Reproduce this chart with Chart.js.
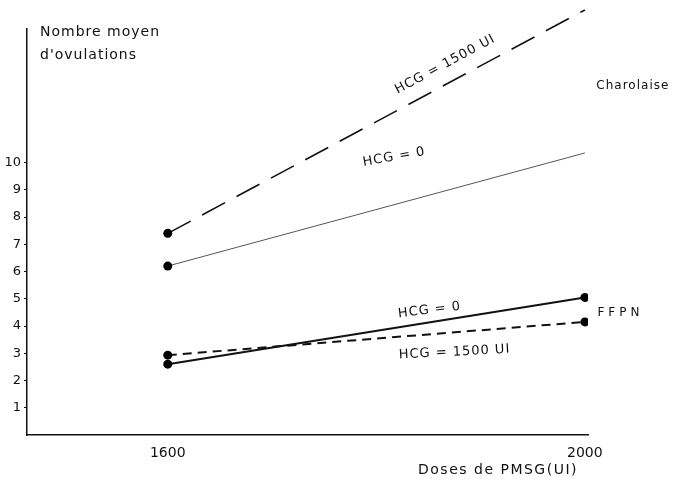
<!DOCTYPE html>
<html>
<head>
<meta charset="utf-8">
<script src="https://cdn.jsdelivr.net/npm/chart.js@4.4.1/dist/chart.umd.min.js"></script>
<style>
  html, body { margin: 0; padding: 0; background: #fff; }
  #ChartContainer { width: 680px; height: 484px; position: relative; }
</style>
</head>
<body>
<div id="ChartContainer"><canvas id="OvulationChart"></canvas></div>
<script>
// Doses de PMSG (UI)
const doses = [1600, 2000];

// Charolaise
const charolaiseHcg1500 = [7.4, 15.6];
const charolaiseHcg0 = [6.2, 10.35];

// FFPN
const ffpnHcg0 = [2.6, 5.05];
const ffpnHcg1500 = [2.93, 4.15];

const yTickLabels = [1, 2, 3, 4, 5, 6, 7, 8, 9, 10];
const xTickLabels = [1600, 2000];

const yTitleLines = ["Nombre moyen", "d'ovulations"];
const xTitle = "Doses de PMSG(UI)";

// texts beside the lines, anchored in data units (dose, ovulations)
const lineLabels = [
    { text: "HCG = 1500 UI", x: 1866, y: 13.6, angle: null, follow: 0 },
    { text: "HCG = 0", x: 1817, y: 10.2, angle: -10 },
    { text: "HCG = 0", x: 1851, y: 4.58, angle: -7 },
    { text: "HCG = 1500 UI", x: 1875, y: 3.04, angle: -3 }
];
const groupLabels = [
    { text: "Charolaise", x: 2011, y: 12.8, spacing: '1px' },
    { text: "FFPN", x: 2012, y: 4.47, spacing: '4px' }
];

const FONT = '"DejaVu Sans", sans-serif';

function toPoints(values) {
    let points = [];
    for (let i = 0; i < doses.length; i++) {
        points.push({ x: doses[i], y: values[i] });
    }
    return points;
}

const annotationPlugin = {
    id: 'annotations',
    afterDatasetsDraw(chart) {
        const ctx = chart.ctx;
        const xs = chart.scales.x;
        const ys = chart.scales.y;
        const area = chart.chartArea;

        ctx.save();
        ctx.fillStyle = '#111';
        ctx.textBaseline = 'middle';
        ctx.font = '14px ' + FONT;
        ctx.letterSpacing = '1px';

        // y axis title, inside the plot next to the axis
        ctx.textAlign = 'left';
        for (let i = 0; i < yTitleLines.length; i++) {
            ctx.fillText(yTitleLines[i], area.left + 13, area.top + 3 + i * 23);
        }

        // x axis title, under the axis towards the right end
        ctx.textAlign = 'right';
        ctx.letterSpacing = '1.5px';
        ctx.fillText(xTitle, area.right - 10, area.bottom + 35);

        ctx.font = '13px ' + FONT;
        ctx.letterSpacing = '1px';
        for (let i = 0; i < lineLabels.length; i++) {
            let lab = lineLabels[i];
            let angle = lab.angle == null ? 0 : lab.angle * Math.PI / 180;
            if (lab.follow != undefined) {
                let pts = chart.getDatasetMeta(lab.follow).data;
                angle = Math.atan2(pts[1].y - pts[0].y, pts[1].x - pts[0].x);
            }
            ctx.save();
            ctx.translate(xs.getPixelForValue(lab.x), ys.getPixelForValue(lab.y));
            ctx.rotate(angle);
            ctx.textAlign = 'center';
            ctx.fillText(lab.text, 0, 0);
            ctx.restore();
        }

        ctx.font = '12px ' + FONT;
        ctx.textAlign = 'left';
        for (let i = 0; i < groupLabels.length; i++) {
            let lab = groupLabels[i];
            ctx.letterSpacing = lab.spacing;
            ctx.fillText(lab.text, xs.getPixelForValue(lab.x), ys.getPixelForValue(lab.y));
        }
        ctx.restore();
    }
};

const datasets = [
    {
        label: 'Charolaise HCG = 1500 UI',
        data: toPoints(charolaiseHcg1500),
        borderColor: '#111',
        borderWidth: 1.6,
        borderDash: [26, 13],
        pointRadius: [4.5, 0],
        clip: false
    },
    {
        label: 'Charolaise HCG = 0',
        data: toPoints(charolaiseHcg0),
        borderColor: '#555',
        borderWidth: 1,
        pointRadius: [4.5, 0],
        clip: false
    },
    {
        label: 'FFPN HCG = 0',
        data: toPoints(ffpnHcg0),
        borderColor: '#111',
        borderWidth: 2,
        pointRadius: 4.5
    },
    {
        label: 'FFPN HCG = 1500 UI',
        data: toPoints(ffpnHcg1500),
        borderColor: '#111',
        borderWidth: 2,
        borderDash: [9, 6],
        pointRadius: 4.5
    }
];

for (let i = 0; i < datasets.length; i++) {
    datasets[i].pointBackgroundColor = '#000';
    datasets[i].pointBorderColor = '#000';
    datasets[i].pointBorderWidth = 0;
    datasets[i].tension = 0;
    datasets[i].fill = false;
}

const config = {
    type: 'line',
    data: { datasets: datasets },
    options: {
        responsive: true,
        maintainAspectRatio: false,
        animation: false,
        layout: { padding: { top: 29, right: 92, left: 0, bottom: 0 } },
        plugins: {
            legend: { display: false },
            tooltip: { enabled: false }
        },
        scales: {
            x: {
                type: 'linear',
                min: 1465,
                max: 2003,
                afterBuildTicks: function (scale) {
                    scale.ticks = xTickLabels.map(v => ({ value: v }));
                },
                afterFit: function (scale) {
                    scale.height = 49;
                },
                border: { color: '#111', width: 1.5 },
                grid: { display: false },
                ticks: {
                    color: '#111',
                    padding: 2,
                    maxRotation: 0,
                    font: { family: FONT, size: 14 },
                    callback: function (value) {
                        return String(value);
                    }
                }
            },
            y: {
                min: 0,
                max: 14.9,
                afterFit: function (scale) {
                    scale.width = 27;
                },
                afterBuildTicks: function (scale) {
                    scale.ticks = yTickLabels.map(v => ({ value: v }));
                },
                border: { color: '#111', width: 1.5 },
                grid: {
                    drawOnChartArea: false,
                    drawTicks: true,
                    tickLength: 3,
                    color: '#111'
                },
                ticks: {
                    color: '#111',
                    padding: 3,
                    font: { family: FONT, size: 13 }
                }
            }
        }
    },
    plugins: [annotationPlugin]
};

let myChart = new Chart(document.getElementById("OvulationChart"), config);
</script>
</body>
</html>
